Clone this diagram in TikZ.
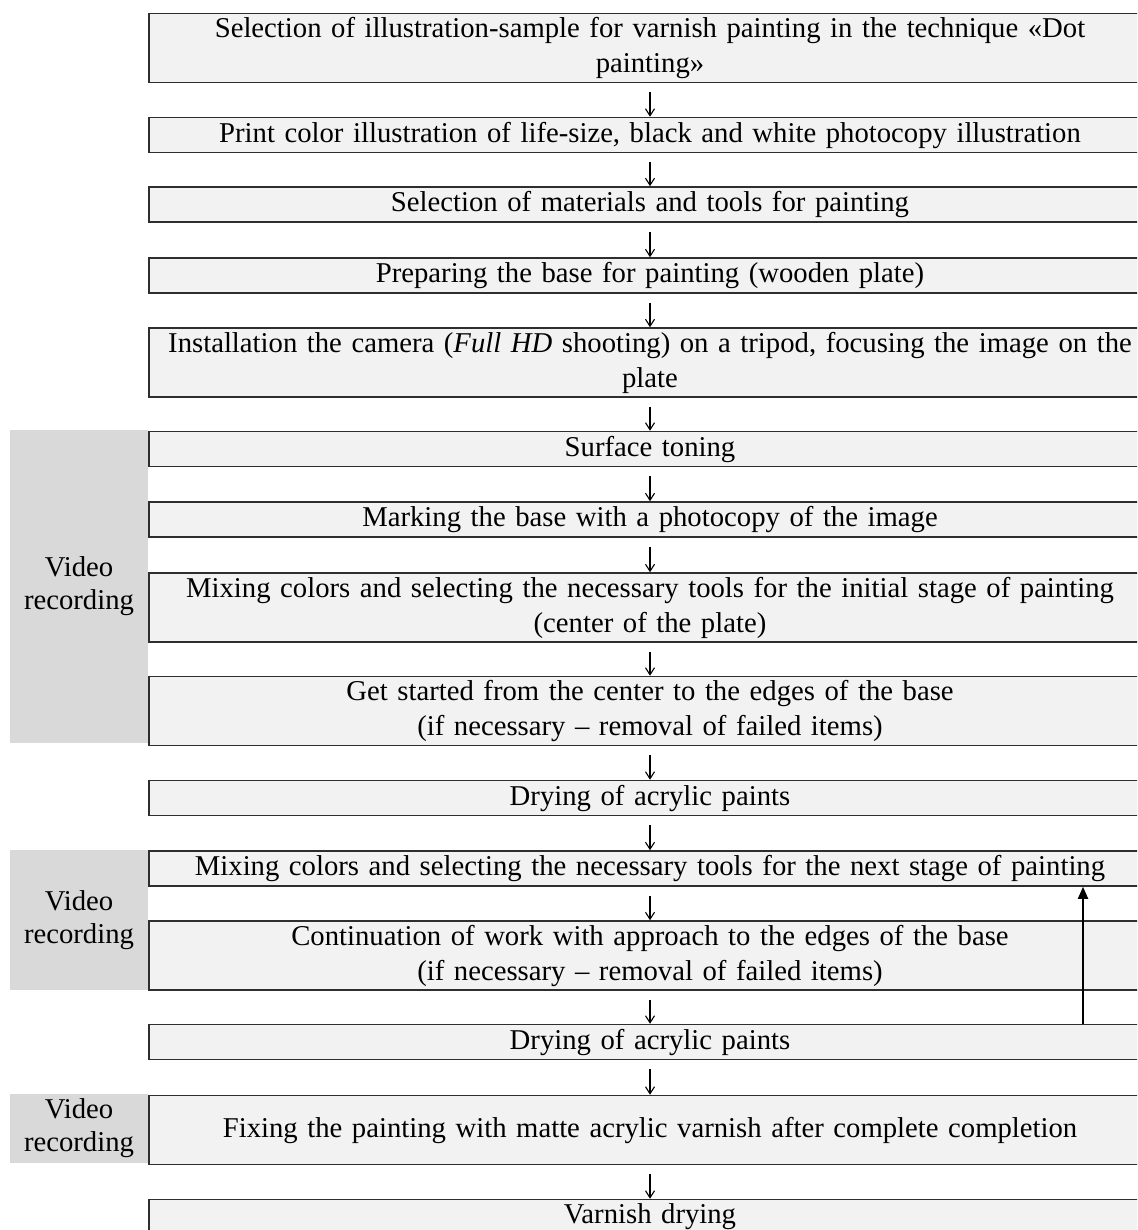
\documentclass[tikz,border=0pt]{standalone}
\usepackage{fontspec}
\setmainfont{Liberation Serif}
\usetikzlibrary{arrows.meta}
\definecolor{boxfill}{HTML}{F2F2F2}
\definecolor{bandfill}{HTML}{D9D9D9}
\definecolor{boxline}{HTML}{2E2E2E}

\begin{document}
\begin{tikzpicture}[x=1pt, y=-1pt,
        stage/.style={rectangle, draw=boxline, line width=1.5pt, fill=boxfill,
                      minimum width=1002pt, minimum height=35pt, text width=990pt,
                      align=center, inner sep=0pt, font=\fontsize{28.7}{35}\selectfont},
        twoline/.style={stage, minimum height=69pt},
        video/.style={rectangle, fill=bandfill, minimum width=138pt,
                      align=center, inner sep=0pt, font=\fontsize{28.7}{33}\selectfont},
        arrow/.style={-{Straight Barb[length=7pt,width=9pt]}, line width=1.1pt, shorten <=9pt},
        back/.style={-{Triangle[length=12pt,width=10pt]}, line width=1.8pt}
    ]
    \useasboundingbox (0,0) rectangle (1137,1230);
    \clip (0,0) rectangle (1137,1230);

    % Bandas grises de grabacion
    \node[video, minimum height=313pt] (video1) at (79,586.5) {Video\\recording};
    \node[video, minimum height=140pt] (video2) at (79,920) {Video\\recording};
    \node[video, minimum height=69pt] (video3) at (79,1128.5) {Video\\recording};

    % Etapas del proceso
    \node[twoline] (etapa1) at (650,48) {Selection of illustration-sample for varnish painting in the technique «Dot\\painting»};
    \node[stage] (etapa2) at (650,135) {Print color illustration of life-size, black and white photocopy illustration};
    \node[stage] (etapa3) at (650,204.5) {Selection of materials and tools for painting};
    \node[stage] (etapa4) at (650,275.5) {Preparing the base for painting (wooden plate)};
    \node[twoline] (etapa5) at (650,362.5) {Installation the camera (\textit{Full HD} shooting) on a tripod, focusing the image on the\\plate};
    \node[stage] (etapa6) at (650,449) {Surface toning};
    \node[stage] (etapa7) at (650,519.5) {Marking the base with a photocopy of the image};
    \node[twoline] (etapa8) at (650,607.5) {Mixing colors and selecting the necessary tools for the initial stage of painting\\(center of the plate)};
    \node[twoline] (etapa9) at (650,711) {Get started from the center to the edges of the base\\(if necessary – removal of failed items)};
    \node[stage] (etapa10) at (650,798) {Drying of acrylic paints};
    \node[stage] (etapa11) at (650,868.5) {Mixing colors and selecting the necessary tools for the next stage of painting};
    \node[twoline] (etapa12) at (650,955.5) {Continuation of work with approach to the edges of the base\\(if necessary – removal of failed items)};
    \node[stage] (etapa13) at (650,1042) {Drying of acrylic paints};
    \node[twoline] (etapa14) at (650,1130) {Fixing the painting with matte acrylic varnish after complete completion};
    \node[stage] (etapa15) at (650,1217) {Varnish drying};

    % Flechas entre etapas
    \draw[arrow] (etapa1) -- (etapa2);
    \draw[arrow] (etapa2) -- (etapa3);
    \draw[arrow] (etapa3) -- (etapa4);
    \draw[arrow] (etapa4) -- (etapa5);
    \draw[arrow] (etapa5) -- (etapa6);
    \draw[arrow] (etapa6) -- (etapa7);
    \draw[arrow] (etapa7) -- (etapa8);
    \draw[arrow] (etapa8) -- (etapa9);
    \draw[arrow] (etapa9) -- (etapa10);
    \draw[arrow] (etapa10) -- (etapa11);
    \draw[arrow] (etapa11) -- (etapa12);
    \draw[arrow] (etapa12) -- (etapa13);
    \draw[arrow] (etapa13) -- (etapa14);
    \draw[arrow] (etapa14) -- (etapa15);

    % Flecha de retorno (repetir etapas)
    \draw[back] ([xshift=433pt]etapa13.north) -- ([xshift=433pt]etapa11.south);

\end{tikzpicture}
\end{document}
